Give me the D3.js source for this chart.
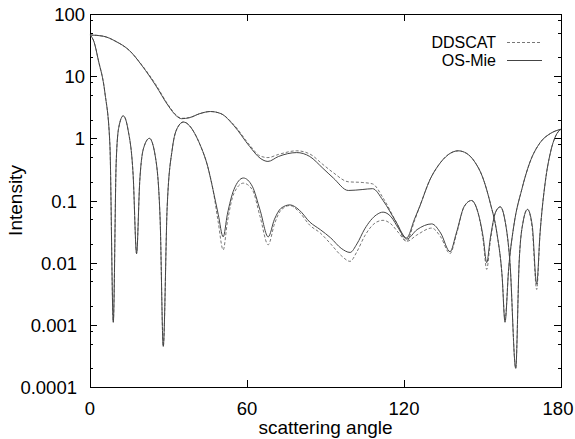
<!DOCTYPE html>
<html>
<head>
<meta charset="utf-8">
<script src="https://cdn.jsdelivr.net/npm/d3@7"></script>
<style>
  body { margin: 0; background: #fff; }
  svg { display: block; font-family: "Liberation Sans", Arial, sans-serif; }
</style>
</head>
<body>
<svg id="chart" width="575" height="439"></svg>
<script>
// upper (smooth) curve
const upperAngle = [0, 5, 10, 15, 20, 25, 30, 33, 35, 38, 42, 46, 50, 55, 61, 65, 68, 72, 79, 84, 89, 93, 98.7, 104, 108, 112, 117, 121, 124, 126, 130, 133, 137, 140.7, 144, 147, 150, 153, 155.5, 157.5, 158.6, 160, 162, 165, 168, 172, 176, 180];
const upperMie = [46, 44, 36, 26, 14.5, 7.2, 3.3, 2.3, 2.07, 2.15, 2.5, 2.7, 2.5, 1.6, 0.74, 0.48, 0.425, 0.51, 0.59, 0.51, 0.33, 0.23, 0.145, 0.15, 0.155, 0.1, 0.045, 0.025, 0.05, 0.08, 0.22, 0.36, 0.55, 0.63, 0.57, 0.42, 0.24, 0.09, 0.03, 0.006, 0.0011, 0.008, 0.04, 0.15, 0.4, 0.85, 1.2, 1.4];
const upperDdscat = [46, 44, 36, 26, 14.8, 7.5, 3.4, 2.35, 2.1, 2.15, 2.5, 2.7, 2.5, 1.65, 0.78, 0.52, 0.49, 0.55, 0.63, 0.56, 0.38, 0.28, 0.2, 0.195, 0.185, 0.11, 0.045, 0.022, 0.047, 0.08, 0.22, 0.36, 0.55, 0.63, 0.57, 0.42, 0.24, 0.09, 0.03, 0.006, 0.0012, 0.008, 0.04, 0.15, 0.4, 0.85, 1.2, 1.4];

// lower (oscillating) curve
const lowerAngle = [0, 1.5, 3.2, 5.7, 7.6, 8.9, 10, 11, 12.7, 14.5, 16.5, 17.8, 19, 20.5, 22.7, 25, 26.8, 28, 29.5, 31.5, 33.5, 35.7, 38, 40, 42, 45, 47, 49, 50.9, 52.5, 55, 58.6, 62, 65, 68.1, 70.5, 73, 76.4, 80, 84, 88, 92, 96, 99.4, 102, 105, 109.5, 112, 115, 118, 121, 125, 130.6, 134, 137.6, 140, 143, 145.8, 148, 150.3, 151.6, 153, 155, 156.8, 158.5, 160.5, 162.7, 164, 165.5, 167.2, 169, 170.7, 172, 174, 176, 178, 180];
const lowerMie = [46, 36, 18, 5.4, 0.8, 0.0011, 0.4, 1.5, 2.3, 1.4, 0.25, 0.014, 0.2, 0.7, 1.0, 0.5, 0.05, 0.00045, 0.08, 0.7, 1.5, 1.83, 1.6, 1.2, 0.8, 0.35, 0.15, 0.06, 0.026, 0.06, 0.15, 0.23, 0.17, 0.07, 0.026, 0.05, 0.075, 0.085, 0.07, 0.045, 0.034, 0.025, 0.017, 0.0146, 0.02, 0.035, 0.059, 0.065, 0.055, 0.035, 0.024, 0.034, 0.042, 0.03, 0.015, 0.03, 0.08, 0.1, 0.07, 0.025, 0.01, 0.025, 0.065, 0.079, 0.05, 0.01, 0.0002, 0.01, 0.045, 0.072, 0.04, 0.0045, 0.03, 0.2, 0.6, 1.1, 1.4];
const lowerDdscat = [46, 36, 18, 5.4, 0.8, 0.0011, 0.4, 1.5, 2.3, 1.4, 0.25, 0.014, 0.2, 0.7, 1.0, 0.5, 0.05, 0.00045, 0.08, 0.7, 1.5, 1.83, 1.6, 1.2, 0.8, 0.35, 0.15, 0.045, 0.016, 0.045, 0.13, 0.19, 0.15, 0.055, 0.0194, 0.042, 0.07, 0.083, 0.065, 0.04, 0.03, 0.02, 0.013, 0.0105, 0.015, 0.027, 0.045, 0.048, 0.042, 0.03, 0.022, 0.028, 0.036, 0.026, 0.014, 0.028, 0.08, 0.1, 0.07, 0.022, 0.0078, 0.022, 0.065, 0.079, 0.05, 0.01, 0.0002, 0.01, 0.045, 0.072, 0.035, 0.0037, 0.03, 0.2, 0.6, 1.1, 1.4];

const xTicks = [0, 60, 120, 180];
const yTicks = [0.0001, 0.001, 0.01, 0.1, 1, 10, 100];
const yTickLabels = ["0.0001", "0.001", "0.01", "0.1", "1", "10", "100"];
const yMinorMult = [2, 5, 8];
const legendNames = ["DDSCAT", "OS-Mie"];

const area = { left: 90, top: 14, right: 561, bottom: 387 };
const svg = d3.select("#chart");

const scX = d3.scaleLinear().domain([0, 180]).range([area.left, area.right]);
const scY = d3.scaleLog().domain([0.0001, 100]).range([area.bottom, area.top]);

function drawAxes() {
  const g = svg.append("g").attr("stroke", "#000").attr("stroke-width", 1);

  // minor ticks on log axis, left and right
  let minor = [];
  yTicks.slice(0, -1).forEach((t) => yMinorMult.forEach((m) => minor.push(t * m)));
  minor.forEach((v) => {
    const y = Math.round(scY(v)) + 0.5;
    g.append("line").attr("x1", area.left).attr("x2", area.left + 3).attr("y1", y).attr("y2", y);
    g.append("line").attr("x1", area.right).attr("x2", area.right - 3).attr("y1", y).attr("y2", y);
  });
  yTicks.forEach((v) => {
    const y = Math.round(scY(v)) + 0.5;
    g.append("line").attr("x1", area.left).attr("x2", area.left + 7).attr("y1", y).attr("y2", y);
    g.append("line").attr("x1", area.right).attr("x2", area.right - 7).attr("y1", y).attr("y2", y);
  });
  xTicks.forEach((v) => {
    const x = Math.round(scX(v)) + 0.5;
    g.append("line").attr("x1", x).attr("x2", x).attr("y1", area.bottom).attr("y2", area.bottom - 7);
    g.append("line").attr("x1", x).attr("x2", x).attr("y1", area.top).attr("y2", area.top + 7);
  });

  svg.append("rect")
    .attr("x", area.left + 0.5).attr("y", area.top + 0.5)
    .attr("width", area.right - area.left).attr("height", area.bottom - area.top)
    .attr("fill", "none").attr("stroke", "#000").attr("stroke-width", 1);

  // integer labels sit a bit closer to the axis than decimal ones
  svg.append("g").selectAll("text").data(yTicks).enter().append("text")
    .attr("x", (d) => (d >= 1 ? area.left - 5 : area.left - 13))
    .attr("y", (d) => scY(d) + 7)
    .attr("text-anchor", "end")
    .attr("font-size", 18.5)
    .text((d, i) => yTickLabels[i]);

  svg.append("g").selectAll("text").data(xTicks).enter().append("text")
    .attr("x", (d) => Math.min(scX(d), 558))
    .attr("y", area.bottom + 28)
    .attr("text-anchor", "middle")
    .attr("font-size", 18.5)
    .text((d) => d);

  svg.append("text")
    .attr("x", (area.left + area.right) / 2)
    .attr("y", 434)
    .attr("text-anchor", "middle")
    .attr("font-size", 19)
    .text("scattering angle");

  svg.append("text")
    .attr("transform", `translate(22, ${(area.top + area.bottom) / 2}) rotate(-90)`)
    .attr("text-anchor", "middle")
    .attr("font-size", 19)
    .text("Intensity");
}

function drawCurve(angles, values, dashed) {
  const line = d3.line()
    .x((d, i) => scX(angles[i]))
    .y((d) => scY(d))
    .curve(d3.curveMonotoneX);
  svg.append("path")
    .datum(values)
    .attr("d", line)
    .attr("fill", "none")
    .attr("stroke", dashed ? "#777" : "#444")
    .attr("stroke-width", 1)
    .attr("stroke-dasharray", dashed ? "3,2" : null);
}

function drawLegend() {
  const rows = [42, 60];
  legendNames.forEach((name, i) => {
    svg.append("text")
      .attr("x", 496).attr("y", rows[i] + 6)
      .attr("text-anchor", "end")
      .attr("font-size", 16)
      .text(name);
    svg.append("line")
      .attr("x1", 507).attr("x2", 542)
      .attr("y1", rows[i] + 0.5).attr("y2", rows[i] + 0.5)
      .attr("stroke", i === 0 ? "#777" : "#444")
      .attr("stroke-width", 1)
      .attr("stroke-dasharray", i === 0 ? "3,2" : null);
  });
}

drawAxes();
drawCurve(upperAngle, upperDdscat, true);
drawCurve(lowerAngle, lowerDdscat, true);
drawCurve(upperAngle, upperMie, false);
drawCurve(lowerAngle, lowerMie, false);
drawLegend();
</script>
</body>
</html>
